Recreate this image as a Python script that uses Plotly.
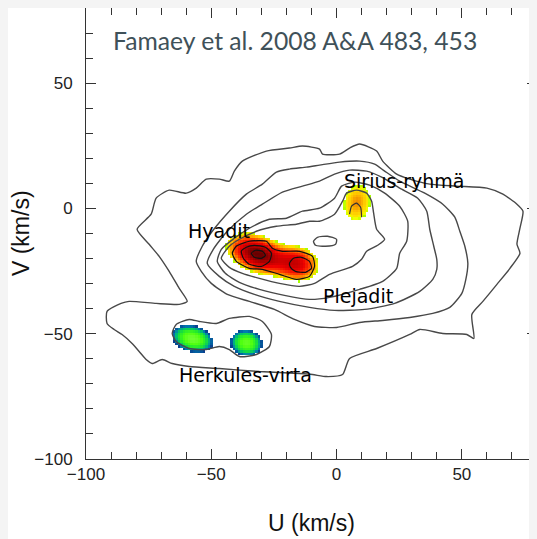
import numpy as np
import plotly.graph_objects as go

# ---------------- data (U, V in km/s) ----------------
u_tick_vals = [-100, -50, 0, 50]
v_tick_vals = [-100, -50, 0, 50]

# density contours (outer to inner)
c1_u = [-79.6, -74.0, -72.0, -66.8, -60.0, -56.0, -52.0, -46.8, -42.8, -40.8, -37.6, -28.0, -18.8, -13.6, -6.8,
        -5.6, 1.2, 5.2, 9.2, 16.0, 18.4, 24.0, 29.2, 37.2, 48.0, 60.0, 66.4, 72.0, 74.4, 73.2, 72.0, 73.2, 69.2,
        64.0, 58.4, 54.0, 54.8, 52.0, 42.4, 33.2, 29.2, 16.0, 5.2, 2.4, -4.0, -9.6, -14.8, -30.8, -46.8, -58.8,
        -65.6, -69.6, -73.6, -76.0, -78.8, -81.6, -85.6, -88.8, -91.6, -91.6, -86.0, -82.8, -72.0, -62.8, -59.6,
        -62.8, -66.8, -70.8, -74.8]
c1_v = [-8.3, -2.3, 4.1, 7.3, 6.1, 8.1, 11.7, 11.7, 10.9, 14.9, 18.9, 22.9, 24.1, 24.9, 23.7, 21.7, 21.7, 24.1,
        25.7, 22.9, 18.9, 13.7, 11.7, 9.7, 8.9, 8.1, 5.7, 1.7, -1.1, -7.9, -14.3, -17.9, -23.9, -30.3, -37.1,
        -42.3, -51.9, -50.3, -49.9, -48.3, -50.3, -55.9, -59.9, -66.3, -67.1, -66.3, -65.9, -65.1, -63.9, -63.1,
        -61.9, -60.3, -61.9, -60.3, -57.1, -53.9, -50.3, -48.3, -45.9, -41.1, -37.9, -37.1, -37.9, -38.3, -37.1,
        -31.9, -25.1, -19.1, -14.3]

c2_u = [-6.8, 1.2, 9.2, 15.2, 19.2, 25.2, 35.2, 42.4, 47.2, 49.2, 51.2, 52.4, 51.6, 50.0, 45.2, 38.4, 29.2, 18.4,
        9.2, 0.0, -8.8, -16.8, -24.8, -34.8, -43.6, -50.0, -54.0, -56.0, -53.6, -49.6, -42.8, -36.0, -29.6, -24.0,
        -18.8, -12.0]
c2_v = [17.3, 18.5, 18.9, 17.7, 14.9, 10.9, 6.1, 1.7, -3.5, -9.1, -15.1, -21.9, -28.3, -33.9, -39.5, -41.9, -43.5,
        -44.7, -45.5, -47.5, -47.1, -44.3, -40.3, -37.1, -34.3, -29.9, -25.1, -21.1, -15.1, -9.1, -1.1, 5.7, 9.7,
        14.5, 15.7, 16.5]

herc_u = [-64.0, -58.8, -54.8, -48.0, -42.8, -34.8, -29.6, -26.0, -26.8, -32.0, -38.8, -42.8, -46.8, -52.0, -58.8,
          -64.0, -65.6]
herc_v = [-46.3, -44.3, -45.1, -45.9, -43.9, -43.1, -45.1, -50.3, -55.1, -58.3, -59.1, -56.3, -55.1, -56.3, -55.9,
          -53.1, -49.9]

c3_u = [-6.8, -0.8, 5.2, 12.0, 18.0, 25.2, 32.4, 36.0, 37.2, 38.8, 40.0, 40.0, 38.4, 33.2, 23.2, 11.2, -0.8, -10.8,
        -22.8, -32.8, -40.8, -46.8, -51.6, -49.2, -43.6, -36.0, -29.6, -21.6, -13.6]
c3_v = [10.9, 13.7, 15.3, 14.9, 12.5, 8.1, 4.1, -1.1, -8.3, -15.1, -20.3, -24.3, -28.3, -33.1, -37.9, -40.3, -40.7,
        -39.5, -37.1, -34.3, -31.1, -27.1, -21.9, -16.3, -9.1, -2.3, 1.7, 6.5, 8.9]

c4_u = [-6.8, -0.8, 2.0, 7.2, 13.2, 19.2, 25.2, 28.4, 28.0, 25.2, 24.0, 18.4, 9.2, -2.8, -10.8, -20.8, -30.8, -38.8,
        -44.4, -47.6, -46.0, -40.8, -34.8, -26.8, -20.0, -13.6]
c4_v = [0.1, 4.1, 8.9, 10.5, 9.3, 6.1, 0.9, -5.1, -13.1, -17.9, -23.9, -29.1, -32.3, -35.5, -36.3, -34.7, -32.3,
        -29.5, -25.9, -21.1, -16.3, -11.9, -7.9, -4.3, -3.9, -1.1]

c5_u = [-6.8, -0.8, 2.4, 4.0, 8.0, 12.0, 14.0, 14.8, 16.0, 19.2, 16.4, 12.0, 10.0, 6.4, -2.8, -8.8, -14.8, -22.8,
        -30.8, -37.6, -42.8, -46.0, -42.8, -38.8, -32.0, -24.0, -16.0, -10.8]
c5_v = [-5.1, -2.3, 2.9, 6.1, 7.3, 6.1, 2.9, -1.9, -8.3, -12.3, -14.7, -17.1, -20.3, -23.1, -26.3, -29.9, -31.1,
        -29.9, -27.9, -25.9, -23.5, -19.9, -15.1, -12.3, -9.1, -7.1, -6.3, -5.1]

island_u = [-9.2, -7.6, -3.6, 0.0, -0.4, -4.4, -8.4]
island_v = [-13.1, -11.5, -11.1, -12.3, -14.3, -15.1, -14.7]

core_a_u = [-41.6, -40.0, -34.8, -28.0, -25.6, -21.6, -14.8, -9.6, -8.8, -10.8, -16.0, -22.8, -29.6, -34.8, -40.0]
core_a_v = [-17.9, -15.1, -13.1, -13.1, -15.9, -17.1, -17.1, -19.1, -23.1, -27.1, -28.3, -26.3, -24.3, -23.9, -21.1]
core_b_u = [-38.0, -36.0, -32.8, -28.4, -26.0, -26.8, -30.0, -34.8, -37.2]
core_b_v = [-17.1, -15.5, -14.7, -15.5, -17.9, -21.1, -23.1, -22.3, -19.9]
core_c_u = [-34.0, -32.4, -29.6, -28.4, -30.0, -32.8]
core_c_v = [-17.9, -16.7, -17.1, -18.7, -19.9, -19.5]
core_d_u = [-18.8, -17.2, -14.0, -10.8, -10.0, -12.4, -16.4, -18.4]
core_d_v = [-21.9, -19.9, -19.5, -21.1, -23.9, -25.5, -25.1, -23.5]
sirius_hook_u = [5.2, 6.0, 8.0, 9.6, 10.0]
sirius_hook_v = [-2.3, 0.9, 2.1, 0.5, -3.5]

# moving-group blobs (wavelet features): centre, widths, orientation, peak
blob_names = ["Hyadit", "Plejadit", "Sirius", "Herkules 1", "Herkules 2"]
blob_u = [-31.6, -15.6, 8.0, -57.6, -36.0]
blob_v = [-18.0, -21.9, 2.3, -51.9, -53.6]
blob_sig_major = [7.3, 5.4, 4.0, 4.7, 3.7]
blob_sig_minor = [4.2, 4.4, 2.9, 2.9, 3.0]
blob_angle = [-20, -15, 80, -15, -10]
blob_peak = [1.0, 0.65, 1.0, 1.0, 0.9]

labels_text = ["Sirius-ryhmä", "Hyadit", "Plejadit", "Herkules-virta"]
labels_u = [26.8, -46.8, 8.4, -36.4]
labels_v = [10.9, -9.1, -35.1, -66.3]

# ---------------- figure ----------------
grid = np.arange(-100, 80.5, 1.0)
UU, VV = np.meshgrid(grid, grid)


def blob(i):
    th = np.deg2rad(blob_angle[i])
    du, dv = UU - blob_u[i], VV - blob_v[i]
    a = du * np.cos(th) + dv * np.sin(th)
    b = -du * np.sin(th) + dv * np.cos(th)
    return blob_peak[i] * np.exp(-0.5 * ((a / blob_sig_major[i]) ** 2 + (b / blob_sig_minor[i]) ** 2))


def masked(field, thr):
    z = np.where(field >= thr, field, np.nan)
    return [[None if np.isnan(x) else float(x) for x in row] for row in z]


fig = go.Figure()

groups = [
    ([0, 1], 0.2, 1.0, [[0, '#a8ff00'], [0.05, '#ffe600'], [0.15, '#ffa000'], [0.3, '#ff4000'],
                        [0.5, '#ee0000'], [0.75, '#b00000'], [1, '#680000']]),
    ([2], 0.2, 1.0, [[0, '#a0ff00'], [0.1, '#f0ff00'], [0.25, '#ffe000'], [0.6, '#ffc000'], [1, '#f08c00']]),
    ([3, 4], 0.2, 1.0, [[0, '#0a3c8c'], [0.1, '#007ab0'], [0.22, '#00c070'], [0.4, '#20e830'],
                        [0.7, '#50ff10'], [1, '#70ff30']]),
]
for idx, thr, zmax, cs in groups:
    f = sum(blob(i) for i in idx)
    fig.add_trace(go.Heatmap(x=grid, y=grid, z=masked(f, thr), zmin=thr, zmax=zmax, colorscale=cs,
                             showscale=False, hoverinfo='skip', zsmooth=False))

gray_lines = [(c1_u, c1_v), (c2_u, c2_v), (herc_u, herc_v), (c3_u, c3_v), (c4_u, c4_v), (c5_u, c5_v),
              (island_u, island_v)]
black_lines = [(core_a_u, core_a_v), (core_b_u, core_b_v), (core_c_u, core_c_v), (core_d_u, core_d_v)]

for u, v in gray_lines:
    fig.add_trace(go.Scatter(x=u + [u[0]], y=v + [v[0]], mode='lines', hoverinfo='skip',
                             line=dict(color='#484848', width=1.4, shape='spline', smoothing=0.6)))
for u, v in black_lines:
    fig.add_trace(go.Scatter(x=u + [u[0]], y=v + [v[0]], mode='lines', hoverinfo='skip',
                             line=dict(color='#111111', width=1.2, shape='spline', smoothing=0.6)))
fig.add_trace(go.Scatter(x=sirius_hook_u, y=sirius_hook_v, mode='lines', hoverinfo='skip',
                         line=dict(color='#333333', width=1.2, shape='spline', smoothing=0.6)))

for t, u, v in zip(labels_text, labels_u, labels_v):
    fig.add_annotation(x=u, y=v, text=t, showarrow=False, xanchor='center', yanchor='middle',
                       font=dict(family='DejaVu Sans', size=19, color='#000000'))

fig.add_annotation(x=-16.6, y=67.2, text='Famaey et al. 2008 A&A 483, 453', showarrow=False,
                   xanchor='center', yanchor='middle', font=dict(family='Lato', size=24.7, color='#3f5159'))

axis_font = dict(family='Liberation Sans', size=23, color='#111111')
fig.add_annotation(xref='paper', yref='paper', x=0.501, y=-0.1419, text='U (km/s)', showarrow=False,
                   xanchor='center', yanchor='middle', font=axis_font)
fig.add_annotation(xref='paper', yref='paper', x=-0.1441, y=0.501, text='V (km/s)', showarrow=False,
                   xanchor='center', yanchor='middle', textangle=-90, font=axis_font)

common = dict(range=[-100, 80], showgrid=False, zeroline=False, showline=True, linecolor='#333333',
              linewidth=1, mirror='ticks', ticks='inside', ticklen=10, tickwidth=1, tickcolor='#333333',
              tickfont=dict(family='Liberation Sans', size=17, color='#222222'),
              minor=dict(dtick=10, ticks='inside', ticklen=7, tickwidth=1, tickcolor='#333333'))
fig.update_xaxes(tickvals=u_tick_vals, **common)
fig.update_yaxes(tickvals=v_tick_vals, ticklabelstandoff=9, **common)

# the page keeps an 8 px body margin, so the figure is sized to the remaining window
fig.update_layout(width=529, height=531, margin=dict(l=78, r=0, t=0, b=80),
                  paper_bgcolor='white', plot_bgcolor='white', showlegend=False)

fig.write_html('out.html', post_script="document.body.style.background='#f4f4f4';")
